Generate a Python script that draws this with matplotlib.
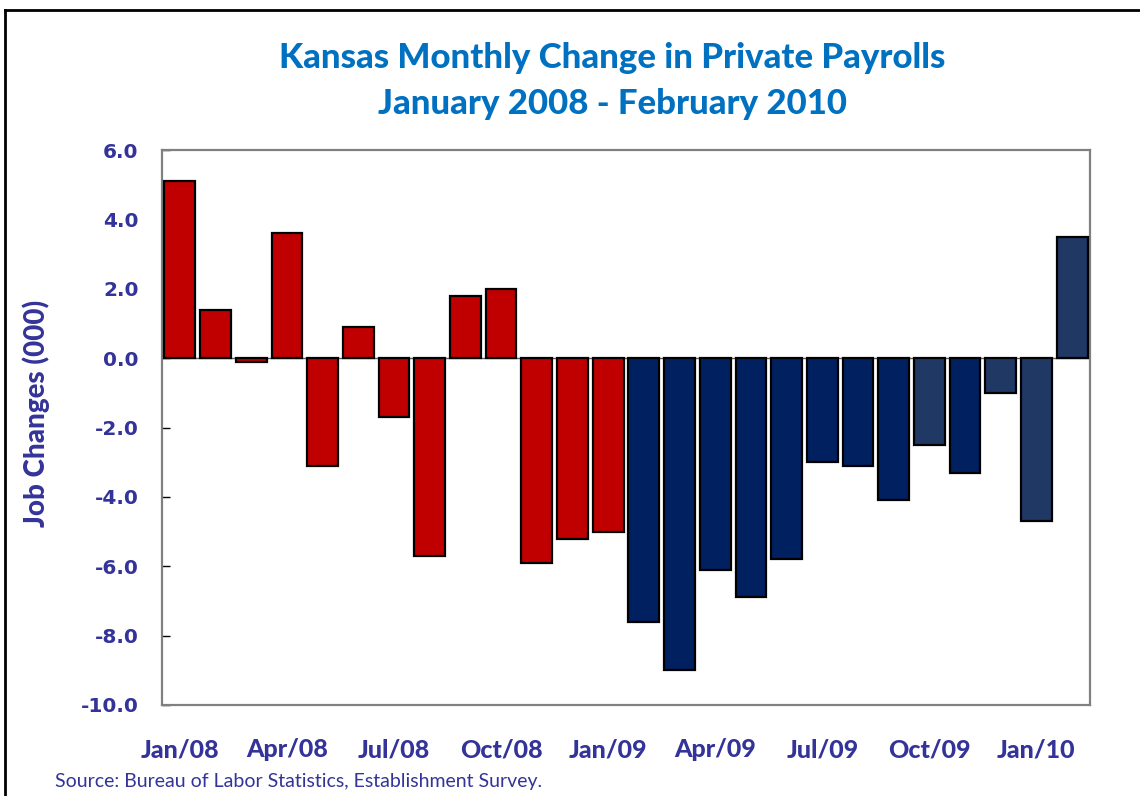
import matplotlib.pyplot as plt
from matplotlib.lines import Line2D

# monthly change in private payrolls, thousands (Jan 2008 - Feb 2010)
months = ["Jan/08", "Feb/08", "Mar/08", "Apr/08", "May/08", "Jun/08", "Jul/08",
          "Aug/08", "Sep/08", "Oct/08", "Nov/08", "Dec/08", "Jan/09", "Feb/09",
          "Mar/09", "Apr/09", "May/09", "Jun/09", "Jul/09", "Aug/09", "Sep/09",
          "Oct/09", "Nov/09", "Dec/09", "Jan/10", "Feb/10"]
changes = [5.1, 1.4, -0.1, 3.6, -3.1, 0.9, -1.7, -5.7, 1.8, 2.0, -5.9, -5.2, -5.0,
           -7.6, -9.0, -6.1, -6.9, -5.8, -3.0, -3.1, -4.1, -2.5, -3.3, -1.0, -4.7, 3.5]
bar_colors = ["#C00000"] * 13 + ["#002060"] * 8 + ["#1F3864", "#002060",
                                                  "#1F3864", "#1F3864", "#1F3864"]
tick_labels = months[::3]

label_blue = "#333399"
title_font = ["Lato", "DejaVu Sans"]

fig = plt.figure(figsize=(11.4, 7.96), dpi=100)
ax = fig.add_axes([162 / 1140, 1 - 705 / 796, 928 / 1140, 555 / 796])

x = list(range(len(changes)))
ax.bar(x, changes, width=0.86, color=bar_colors, edgecolor="black", linewidth=1.6, zorder=3)
ax.axhline(0, color="#606060", linewidth=1.0, zorder=2)

ax.set_xlim(-0.5, len(changes) - 0.5)
ax.set_ylim(-10, 6)
ax.set_yticks(range(-10, 7, 2))
ax.set_yticklabels([f"{v:.1f}" for v in range(-10, 7, 2)],
                   fontsize=14.5, fontweight="bold", color=label_blue)
ax.tick_params(axis="y", direction="in", length=6, width=1, pad=17)
ax.set_xticks(x[::3])
ax.set_xticklabels(tick_labels, family=title_font, fontsize=18, fontweight=900,
                   color=label_blue)
ax.tick_params(axis="x", length=0, pad=24)

for s in ax.spines.values():
    s.set_color("#808080")
    s.set_linewidth(1.6)

ax.set_ylabel("Job Changes (000)", family=title_font, fontsize=20, fontweight=900,
              color=label_blue)
ax.yaxis.set_label_coords(-0.121, 0.525)

fig.text(0.537, 1 - 58 / 796, "Kansas Monthly Change in Private Payrolls",
         family=title_font, fontsize=25, fontweight=900, color="#0070C0",
         ha="center", va="center")
fig.text(0.537, 1 - 104 / 796, "January 2008 - February 2010",
         family=title_font, fontsize=25, fontweight=900, color="#0070C0",
         ha="center", va="center")
fig.text(55 / 1140, 1 - 782 / 796, "Source: Bureau of Labor Statistics, Establishment Survey.",
         family=title_font, fontsize=14, color=label_blue, ha="left", va="center")

# chart area border
fig.add_artist(Line2D([5 / 1140, 5 / 1140], [0, 1 - 10 / 796], color="black", linewidth=2))
fig.add_artist(Line2D([5 / 1140, 1], [1 - 10 / 796, 1 - 10 / 796], color="black", linewidth=2))

fig.savefig("out.png", dpi=100)
